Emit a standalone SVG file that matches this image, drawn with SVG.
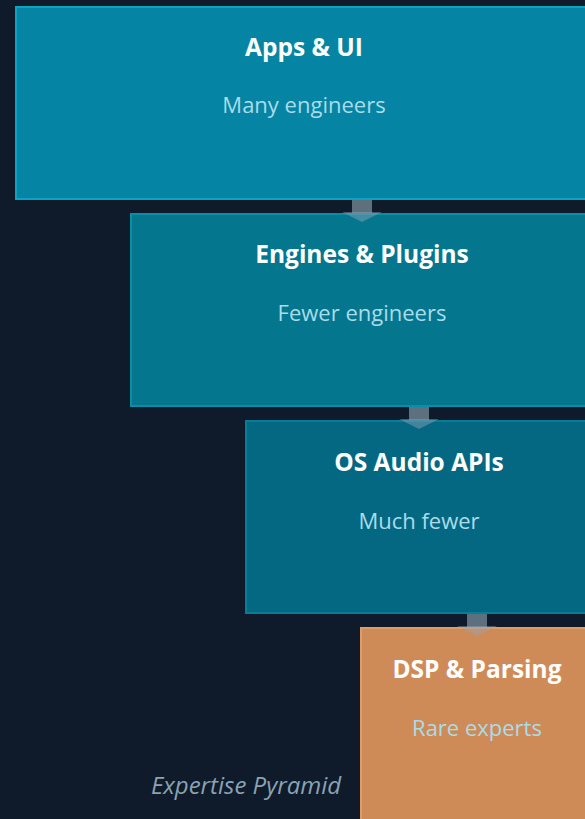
<svg xmlns="http://www.w3.org/2000/svg" width="585" height="819" viewBox="0 0 585 819">
  <style>
    .title { font-family: "Open Sans", "Liberation Sans", sans-serif; font-weight: bold; font-size: 24.5px; fill: #ffffff; text-anchor: middle; }
    .sub { font-family: "Open Sans", "Liberation Sans", sans-serif; font-size: 22px; fill: #a9dcea; text-anchor: middle; }
    .caption { font-family: "Open Sans", "Liberation Sans", sans-serif; font-style: italic; font-size: 24px; fill: #8aa3b3; text-anchor: middle; }
    .shaft { fill: #5e6f7d; }
    .head { fill: #94a3b8; fill-opacity: 0.45; }
  </style>
  <rect width="585" height="819" fill="#0f1a2a"/>

  <g id="apps-ui">
    <rect x="16" y="7" width="577" height="192" fill="#0585a3" stroke="#0aa3c4" stroke-width="2"/>
    <text class="title" x="304" y="56">Apps &amp; UI</text>
    <text class="sub" x="304" y="113">Many engineers</text>
  </g>

  <g id="engines-plugins">
    <rect x="131" y="214" width="462" height="192" fill="#04778f" stroke="#088fa8" stroke-width="2"/>
    <text class="title" x="362" y="263">Engines &amp; Plugins</text>
    <text class="sub" x="362" y="321">Fewer engineers</text>
  </g>

  <g id="os-audio-apis">
    <rect x="246" y="421" width="347" height="192" fill="#056882" stroke="#077e98" stroke-width="2"/>
    <text class="title" x="419" y="471">OS Audio APIs</text>
    <text class="sub" x="419" y="529">Much fewer</text>
  </g>

  <g id="dsp-parsing">
    <rect x="361" y="628" width="232" height="200" fill="#cf8b57" stroke="#e09c66" stroke-width="2"/>
    <text class="title" x="477" y="678">DSP &amp; Parsing</text>
    <text class="sub" x="477" y="736">Rare experts</text>
  </g>

  <g id="connectors">
    <rect class="shaft" x="352" y="200" width="20" height="13"/>
    <polygon class="head" points="342,212 382,212 362,222"/>
    <rect class="shaft" x="409" y="407" width="20" height="13"/>
    <polygon class="head" points="399,419 439,419 419,429"/>
    <rect class="shaft" x="467" y="614" width="20" height="13"/>
    <polygon class="head" points="457,626 497,626 477,636"/>
  </g>

  <text class="caption" x="246" y="794">Expertise Pyramid</text>
</svg>
